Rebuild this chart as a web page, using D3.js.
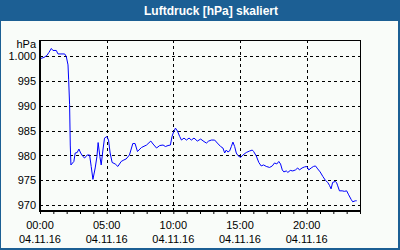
<html>
<head>
<script src="https://cdn.jsdelivr.net/npm/d3@7"></script>
<style>
  body { margin: 0; background: #ffffff; }
  text { font-family: "Liberation Sans", Arial, sans-serif; }
</style>
</head>
<body>
<div id="chartContainer"></div>
<script type="text/javascript">
    // Luftdruck 04.11.16, hours since 00:00 and hPa
    var hours = [0.07, 0.30, 0.52, 0.67, 0.85, 0.97, 1.22, 1.35, 1.85, 1.97,
      2.10, 2.15, 2.22, 2.27, 2.32, 2.54, 2.64, 2.79, 2.92, 3.05,
      3.22, 3.35, 3.54, 3.72, 3.84, 3.97, 4.14, 4.27, 4.36, 4.49,
      4.59, 4.72, 4.84, 5.01, 5.14, 5.26, 5.41, 5.64, 5.84, 6.09,
      6.29, 6.46, 6.71, 6.96, 7.13, 7.31, 7.61, 7.99, 8.31, 8.48,
      8.74, 8.98, 9.23, 9.41, 9.60, 9.78, 9.90, 10.03, 10.16, 10.31,
      10.48, 10.61, 10.80, 10.98, 11.18, 11.35, 11.55, 11.80, 12.05, 12.30,
      12.48, 12.65, 12.85, 13.10, 13.30, 13.55, 13.72, 13.85, 13.97, 14.09,
      14.22, 14.35, 14.47, 14.60, 14.72, 14.84, 15.04, 15.22, 15.47, 15.72,
      15.92, 16.02, 16.22, 16.41, 16.59, 16.77, 16.97, 17.22, 17.42, 17.59,
      17.76, 17.91, 18.04, 18.17, 18.29, 18.47, 18.59, 18.77, 18.96, 19.16,
      19.33, 19.46, 19.66, 19.84, 20.01, 20.16, 20.34, 20.51, 20.66, 20.83,
      21.01, 21.21, 21.41, 21.58, 21.71, 21.83, 21.95, 22.16, 22.25, 22.33,
      22.46, 22.66, 22.83, 23.00, 23.15, 23.33, 23.45, 23.65, 23.75];
    var pressure = [999.5, 999.7, 1000.1, 1000.7, 1001.5, 1001.1, 1001.1, 1000.4, 1000.4, 999.9,
      998.2, 995.2, 990.2, 982.1, 978.1, 978.8, 980.5, 980.6, 981.3, 980.5,
      979.8, 979.5, 980.1, 980.1, 977.8, 975.2, 977.5, 979.8, 982.6, 979.8,
      978.1, 981.1, 983.5, 983.8, 983.1, 980.5, 978.6, 978.3, 977.8, 978.8,
      979.1, 979.3, 980.1, 982.4, 982.4, 980.8, 981.6, 982.1, 982.9, 982.3,
      981.5, 982.0, 982.1, 981.8, 982.0, 982.1, 983.8, 984.8, 985.5, 984.9,
      983.8, 983.1, 983.5, 983.1, 983.5, 983.1, 983.5, 982.9, 983.3, 982.8,
      982.5, 982.9, 983.1, 983.1, 982.5, 981.8, 981.5, 980.5, 981.1, 980.7,
      980.9, 981.8, 982.7, 981.8, 980.5, 980.0, 979.6, 980.1, 980.6, 980.9,
      981.1, 980.8, 979.9, 978.6, 977.9, 978.1, 977.8, 977.6, 977.9, 978.5,
      978.3, 978.8, 978.3, 977.1, 976.7, 976.9, 976.6, 977.0, 976.9, 977.1,
      977.5, 977.1, 977.5, 977.7, 977.8, 977.1, 977.5, 977.8, 977.9, 977.3,
      976.7, 975.8, 975.0, 974.6, 974.0, 973.3, 974.6, 974.8, 974.5, 973.9,
      972.9, 972.9, 972.8, 972.9, 972.1, 971.2, 970.7, 970.9, 970.9];

    var yTicks = [970, 975, 980, 985, 990, 995, 1000];
    var xTicks = [0, 5, 10, 15, 20];
    var xTickLabels = ["00:00", "05:00", "10:00", "15:00", "20:00"];
    var dateLabel = "04.11.16";
    var title = "Luftdruck [hPa] skaliert";
    var unit = "hPa";

    var width = 400;
    var height = 250;
    var bounds = { x: 40, y: 40, width: 320, height: 171 };

    var svg = d3.select("#chartContainer").append("svg")
        .attr("width", width)
        .attr("height", height);

    // frame + title bar
    svg.append("rect")
        .attr("x", 0).attr("y", 0).attr("width", width).attr("height", height)
        .attr("fill", "#1c5f94");
    svg.append("rect")
        .attr("x", 1).attr("y", 21).attr("width", width - 3).attr("height", height - 23)
        .attr("fill", "#f9fcf9");
    svg.append("text")
        .attr("x", 211).attr("y", 14.5)
        .attr("text-anchor", "middle")
        .style("font-size", "12px").style("font-weight", "bold")
        .attr("fill", "#ffffff")
        .text(title);

    var x = d3.scaleLinear().domain([0, 24]).range([bounds.x, bounds.x + bounds.width]);
    var y = d3.scaleLinear().domain([968.85, 1003.2]).range([bounds.y + bounds.height, bounds.y]);

    var fmt = d3.formatLocale({ decimal: ",", thousands: ".", grouping: [3], currency: ["", "€"] }).format(",d");

    // dashed grid
    svg.append("g").selectAll("line").data(yTicks).enter().append("line")
        .attr("x1", bounds.x).attr("x2", bounds.x + bounds.width)
        .attr("y1", function (d) { return Math.round(y(d)) + 0.5; })
        .attr("y2", function (d) { return Math.round(y(d)) + 0.5; })
        .attr("stroke", "#000").attr("stroke-dasharray", "3,3");
    svg.append("g").selectAll("line").data(xTicks.slice(1)).enter().append("line")
        .attr("y1", bounds.y).attr("y2", bounds.y + bounds.height)
        .attr("x1", function (d) { return Math.round(x(d)) + 0.5; })
        .attr("x2", function (d) { return Math.round(x(d)) + 0.5; })
        .attr("stroke", "#000").attr("stroke-dasharray", "3,3");

    // y axis labels (no ticks)
    var yAxis = d3.axisLeft(y).tickValues(yTicks).tickSize(0).tickPadding(4).tickFormat(fmt);
    var gy = svg.append("g").attr("transform", "translate(" + bounds.x + ",0)").call(yAxis);
    gy.select(".domain").remove();
    gy.selectAll("text").style("font-size", "11px").style("font-family", "Liberation Sans, Arial, sans-serif").attr("fill", "#000");
    svg.append("text")
        .attr("x", 36).attr("y", 48)
        .attr("text-anchor", "end")
        .style("font-size", "11px")
        .text(unit);

    // x axis: hourly ticks
    var xAxis = d3.axisBottom(x).ticks(24).tickSize(3).tickFormat("");
    var gx = svg.append("g").attr("transform", "translate(0," + (bounds.y + bounds.height) + ")").call(xAxis);
    gx.select(".domain").remove();
    gx.selectAll("line").attr("stroke", "#000");

    var xl = svg.append("g").selectAll("g").data(xTicks).enter().append("g");
    xl.append("text")
        .attr("x", function (d) { return x(d); }).attr("y", 229)
        .attr("text-anchor", "middle").style("font-size", "11px")
        .text(function (d, i) { return xTickLabels[i]; });
    xl.append("text")
        .attr("x", function (d) { return x(d); }).attr("y", 243)
        .attr("text-anchor", "middle").style("font-size", "11px")
        .text(dateLabel);

    // plot frame
    svg.append("rect")
        .attr("x", bounds.x + 0.5).attr("y", bounds.y + 0.5)
        .attr("width", bounds.width).attr("height", bounds.height)
        .attr("fill", "none").attr("stroke", "#000").attr("stroke-width", 1);
    svg.append("line")
        .attr("x1", bounds.x).attr("x2", bounds.x)
        .attr("y1", bounds.y).attr("y2", bounds.y + bounds.height + 1)
        .attr("stroke", "#000").attr("stroke-width", 2);
    svg.append("line")
        .attr("x1", bounds.x).attr("x2", bounds.x + bounds.width + 1)
        .attr("y1", bounds.y + bounds.height).attr("y2", bounds.y + bounds.height)
        .attr("stroke", "#000").attr("stroke-width", 2);

    // pressure line
    var line = d3.line()
        .x(function (d, i) { return x(hours[i]); })
        .y(function (d) { return y(d); });
    svg.append("path")
        .datum(pressure)
        .attr("d", line)
        .attr("fill", "none")
        .attr("stroke", "#0000ff")
        .attr("stroke-width", 1);
</script>
</body>
</html>
